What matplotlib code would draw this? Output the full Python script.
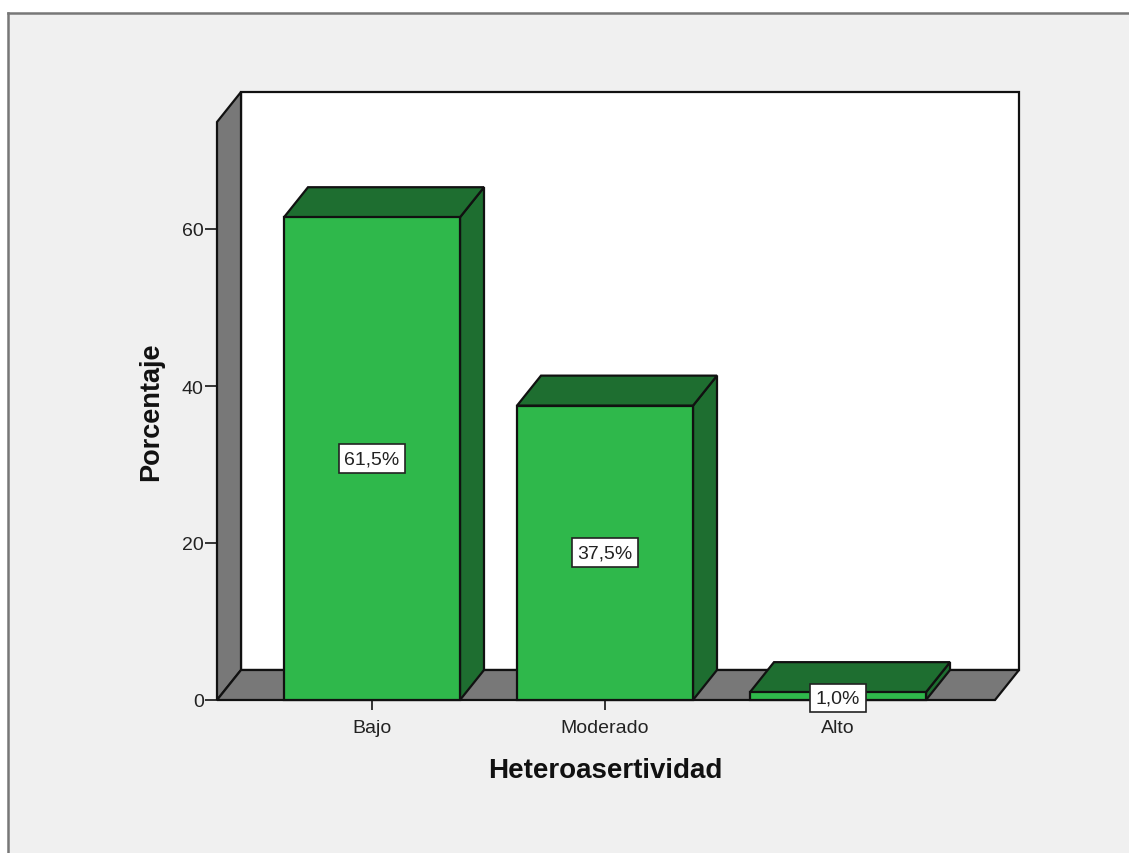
import matplotlib
matplotlib.use("Agg")
import matplotlib.pyplot as plt
from matplotlib.lines import Line2D
from matplotlib.patches import Polygon, Rectangle

categories = ["Bajo", "Moderado", "Alto"]
values = [61.5, 37.5, 1.0]
labels = ["61,5%", "37,5%", "1,0%"]
yticks = [0, 20, 40, 60]

W, H = 1129, 854
plt.rcParams["font.family"] = ["Liberation Sans", "DejaVu Sans"]
fig = plt.figure(figsize=(W / 100, H / 100), dpi=100, facecolor="white")

GREEN, DARK, GRAY, BG, INK = "#2fb84b", "#1e6e30", "#787878", "#f0f0f0", "#111111"

# panel background and its frame
fig.add_artist(Rectangle((8 / W, 0), 1, 1 - 14 / H, transform=fig.transFigure,
                         facecolor=BG, edgecolor="none", zorder=-5))
fig.add_artist(Line2D([8 / W, 8 / W], [0, 1 - 14 / H], color="#777777", lw=1.8))
fig.add_artist(Line2D([8 / W, 1], [1 - 14 / H, 1 - 14 / H], color="#777777", lw=1.8))

# front plane of the plot: x 217..995, y 123..701 px
ax = fig.add_axes([217 / W, 1 - 701 / H, (995 - 217) / W, (701 - 123) / H])
ax.patch.set_visible(False)
PX_X, PX_Y = 233.0, 7.85
x0 = -(372 - 217) / PX_X
x1 = x0 + (995 - 217) / PX_X
ytop = (701 - 123) / PX_Y
ax.set_xlim(x0, x1)
ax.set_ylim(0, ytop)
dx, dy = 24 / PX_X, 30 / PX_Y
bw = 176 / PX_X


def poly(pts, fc, z, lw=1.6):
    ax.add_patch(Polygon(pts, closed=True, facecolor=fc, edgecolor=INK, lw=lw,
                         zorder=z, clip_on=False, joinstyle="miter"))


# back wall, left wall, floor
poly([(x0 + dx, dy), (x1 + dx, dy), (x1 + dx, ytop + dy), (x0 + dx, ytop + dy)], "white", 1)
poly([(x0, 0), (x0 + dx, dy), (x0 + dx, ytop + dy), (x0, ytop)], GRAY, 2)
poly([(x0, 0), (x1, 0), (x1 + dx, dy), (x0 + dx, dy)], GRAY, 2)

# bars
for i, v in enumerate(values):
    l, r = i - bw / 2, i + bw / 2
    poly([(r, 0), (r + dx, dy), (r + dx, v + dy), (r, v)], DARK, 3 + i)
    poly([(l, v), (r, v), (r + dx, v + dy), (l + dx, v + dy)], DARK, 3 + i)
ax.bar(range(len(values)), values, width=bw, color=GREEN, edgecolor=INK, lw=1.6,
       zorder=6, clip_on=False)

for i, (v, s) in enumerate(zip(values, labels)):
    ax.annotate(s, (i, v / 2), xytext=(0, -1.5 if i == 2 else 0), textcoords="offset points",
                ha="center", va="center", fontsize=14, color="#222222", zorder=9,
                bbox=dict(boxstyle="square,pad=0.3", facecolor="white",
                          edgecolor="#222222", lw=1.2))

for sp in ax.spines.values():
    sp.set_visible(False)
ax.set_yticks(yticks)
ax.set_xticks(range(len(categories)))
ax.set_xticklabels(categories)
ax.tick_params(axis="y", length=8.5, width=1.4, color="#333333", labelcolor="#222222",
               labelsize=14, pad=1)
ax.tick_params(axis="x", length=7, width=1.4, color="#333333", labelcolor="#222222",
               labelsize=14, pad=7)

fig.text(605.5 / W, 1 - 771 / H, "Heteroasertividad", ha="center", va="center",
         fontsize=20, fontweight="bold", color="#111111")
fig.text(151 / W, 1 - 412 / H, "Porcentaje", ha="center", va="center", rotation=90,
         fontsize=19.5, fontweight="bold", color="#111111")

fig.savefig("out.png", dpi=100, facecolor=fig.get_facecolor())
